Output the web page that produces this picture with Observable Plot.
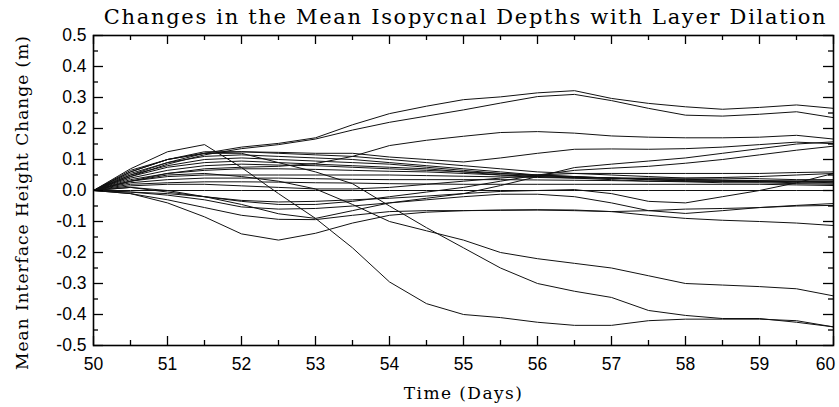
<!DOCTYPE html>
<html><head><meta charset="utf-8">
<script src="https://cdn.jsdelivr.net/npm/d3@7"></script>
<script src="https://cdn.jsdelivr.net/npm/@observablehq/plot@0.6"></script>
<style>body{margin:0;background:#fff} svg{display:block}</style>
</head><body><div id="chart"></div>
<script>
const titleText = "Changes in the Mean Isopycnal Depths with Layer Dilation";
const xLabelText = "Time (Days)";
const yLabelText = "Mean Interface Height Change (m)";

const days = [50, 50.5, 51, 51.5, 52, 52.5, 53, 53.5, 54, 54.5, 55, 55.5, 56, 56.5, 57, 57.5, 58, 58.5, 59, 59.5, 60];

const sA = [0, 0.05, 0.09, 0.12, 0.14, 0.152, 0.17, 0.212, 0.248, 0.272, 0.293, 0.302, 0.315, 0.322, 0.297, 0.281, 0.27, 0.262, 0.268, 0.276, 0.265];
const sB = [0, 0.045, 0.085, 0.115, 0.135, 0.148, 0.166, 0.195, 0.22, 0.24, 0.26, 0.282, 0.303, 0.31, 0.29, 0.265, 0.243, 0.24, 0.246, 0.254, 0.235];
const sC = [0, 0.03, 0.055, 0.07, 0.075, 0.078, 0.087, 0.11, 0.145, 0.162, 0.175, 0.187, 0.19, 0.185, 0.176, 0.172, 0.17, 0.17, 0.172, 0.178, 0.166];
const sD = [0, 0.06, 0.1, 0.12, 0.125, 0.123, 0.12, 0.12, 0.108, 0.1, 0.092, 0.105, 0.12, 0.133, 0.134, 0.133, 0.135, 0.14, 0.148, 0.156, 0.151];
const sL1 = [0, 0.06, 0.1, 0.125, 0.125, 0.12, 0.115, 0.11, 0.1, 0.09, 0.08, 0.07, 0.06, 0.055, 0.05, 0.045, 0.04, 0.04, 0.038, 0.035, 0.035];
const sL2 = [0, 0.055, 0.09, 0.11, 0.115, 0.11, 0.105, 0.1, 0.09, 0.08, 0.07, 0.06, 0.05, 0.045, 0.04, 0.035, 0.03, 0.03, 0.03, 0.028, 0.025];
const sL3 = [0, 0.05, 0.08, 0.1, 0.105, 0.1, 0.095, 0.09, 0.085, 0.075, 0.065, 0.055, 0.048, 0.043, 0.04, 0.038, 0.035, 0.033, 0.03, 0.03, 0.03];
const sL4 = [0, 0.045, 0.075, 0.09, 0.095, 0.09, 0.085, 0.08, 0.075, 0.07, 0.06, 0.05, 0.045, 0.04, 0.035, 0.03, 0.028, 0.025, 0.025, 0.022, 0.02];
const sL5 = [0, 0.04, 0.065, 0.08, 0.085, 0.082, 0.08, 0.075, 0.07, 0.065, 0.06, 0.055, 0.05, 0.045, 0.04, 0.035, 0.032, 0.03, 0.028, 0.025, 0.024];
const sL6 = [0, 0.035, 0.055, 0.065, 0.07, 0.07, 0.068, 0.065, 0.062, 0.06, 0.055, 0.05, 0.045, 0.042, 0.04, 0.038, 0.036, 0.034, 0.032, 0.03, 0.03];
const sL7 = [0, 0.03, 0.045, 0.05, 0.05, 0.05, 0.05, 0.05, 0.05, 0.048, 0.046, 0.044, 0.042, 0.04, 0.04, 0.04, 0.04, 0.042, 0.045, 0.05, 0.055];
const sL8 = [0, 0.025, 0.035, 0.04, 0.04, 0.04, 0.038, 0.036, 0.035, 0.035, 0.035, 0.035, 0.034, 0.033, 0.032, 0.03, 0.03, 0.03, 0.03, 0.03, 0.03];
const sL9 = [0, 0.02, 0.025, 0.028, 0.028, 0.027, 0.025, 0.024, 0.022, 0.021, 0.02, 0.02, 0.02, 0.02, 0.02, 0.02, 0.02, 0.02, 0.02, 0.018, 0.016];
const sZ = [0, 0, 0, 0, 0, 0, 0, 0, 0, 0, 0, 0, 0, 0, 0, 0, 0, 0, 0, 0, 0];
const sI = [0, 0.01, 0.0, -0.02, -0.045, -0.075, -0.09, -0.065, -0.04, -0.025, -0.01, 0.016, 0.045, 0.074, 0.085, 0.095, 0.105, 0.12, 0.135, 0.15, 0.157];
const sJ = [0, 0.01, -0.005, -0.02, -0.035, -0.045, -0.045, -0.035, -0.02, -0.005, 0.01, 0.03, 0.05, 0.065, 0.072, 0.078, 0.088, 0.1, 0.115, 0.13, 0.143];
const sK = [0, 0.015, 0.02, 0.02, 0.015, 0.01, 0.005, 0.005, 0.01, 0.02, 0.03, 0.04, 0.05, 0.055, 0.055, 0.055, 0.055, 0.055, 0.055, 0.058, 0.06];
const sM1 = [0, -0.005, -0.01, -0.02, -0.032, -0.037, -0.035, -0.03, -0.025, -0.018, -0.01, -0.003, 0.0, 0.003, -0.01, -0.035, -0.04, -0.02, 0.0, 0.025, 0.055];
const sM2 = [0, -0.005, -0.015, -0.03, -0.053, -0.06, -0.058, -0.05, -0.04, -0.03, -0.02, -0.012, -0.012, -0.02, -0.04, -0.065, -0.074, -0.065, -0.055, -0.048, -0.042];
const sM3 = [0, -0.01, -0.03, -0.055, -0.08, -0.093, -0.094, -0.08, -0.068, -0.065, -0.065, -0.063, -0.062, -0.063, -0.068, -0.08, -0.09, -0.096, -0.1, -0.105, -0.113];
const sH = [0, -0.01, -0.04, -0.085, -0.14, -0.16, -0.138, -0.105, -0.08, -0.07, -0.065, -0.064, -0.063, -0.065, -0.068, -0.065, -0.06, -0.058, -0.055, -0.05, -0.048];
const sE = [0, 0.03, 0.05, 0.055, 0.045, 0.03, 0.005, -0.045, -0.1, -0.13, -0.16, -0.2, -0.22, -0.235, -0.25, -0.275, -0.3, -0.305, -0.31, -0.317, -0.34];
const sF = [0, 0.065, 0.1, 0.12, 0.12, 0.09, 0.06, 0.022, -0.05, -0.12, -0.185, -0.25, -0.3, -0.325, -0.345, -0.387, -0.403, -0.413, -0.413, -0.425, -0.44];
const sG = [0, 0.07, 0.125, 0.148, 0.074, -0.01, -0.09, -0.185, -0.295, -0.365, -0.4, -0.41, -0.425, -0.435, -0.435, -0.42, -0.415, -0.415, -0.415, -0.42, -0.44];

const seriesList = [
  ["A", sA], ["B", sB], ["C", sC], ["D", sD],
  ["L1", sL1], ["L2", sL2], ["L3", sL3], ["L4", sL4], ["L5", sL5], ["L6", sL6], ["L7", sL7], ["L8", sL8], ["L9", sL9],
  ["Z", sZ], ["I", sI], ["J", sJ], ["K", sK], ["M1", sM1], ["M2", sM2], ["M3", sM3], ["H", sH],
  ["E", sE], ["F", sF], ["G", sG]
];

const xMajor = [50, 51, 52, 53, 54, 55, 56, 57, 58, 59, 60];
const xMinor = [50.5, 51.5, 52.5, 53.5, 54.5, 55.5, 56.5, 57.5, 58.5, 59.5];
const yMajor = [-0.5, -0.4, -0.3, -0.2, -0.1, 0, 0.1, 0.2, 0.3, 0.4, 0.5];
const yMinor = [-0.45, -0.35, -0.25, -0.15, -0.05, 0.05, 0.15, 0.25, 0.35, 0.45];

const rows = seriesList.flatMap(([name, vals]) => vals.map((v, i) => ({series: name, day: days[i], change: v})));

const W = 839, H = 407, mL = 93, mR = 6, mT = 35, mB = 62;
const fw = W - mL - mR, fh = H - mT - mB;
const serif = "DejaVu Serif, serif";
const tk = {stroke: "#000", strokeWidth: 1.3};

const chart = Plot.plot({
  width: W, height: H,
  marginLeft: mL, marginRight: mR, marginTop: mT, marginBottom: mB,
  style: {fontFamily: "Liberation Sans, Arial, sans-serif", fontSize: "17px", background: "#fff", color: "#000"},
  x: {domain: [50, 60], label: null},
  y: {domain: [-0.5, 0.5], label: null},
  marks: [
    Plot.lineY(rows, {x: "day", y: "change", z: "series", stroke: "#111", strokeWidth: 1}),
    // inward ticks on all four sides
    Plot.tickX(xMajor, {x: d => d, insetTop: fh - 9, ...tk}),
    Plot.tickX(xMinor, {x: d => d, insetTop: fh - 5, ...tk}),
    Plot.tickX(xMajor, {x: d => d, insetBottom: fh - 9, ...tk}),
    Plot.tickX(xMinor, {x: d => d, insetBottom: fh - 5, ...tk}),
    Plot.tickY(yMajor, {y: d => d, insetRight: fw - 10, ...tk}),
    Plot.tickY(yMinor, {y: d => d, insetRight: fw - 5, ...tk}),
    Plot.tickY(yMajor, {y: d => d, insetLeft: fw - 10, ...tk}),
    Plot.tickY(yMinor, {y: d => d, insetLeft: fw - 5, ...tk}),
    Plot.axisX(xMajor, {anchor: "bottom", tickSize: 0, tickPadding: 12, tickFormat: d => String(d), fontSize: 17.5, stroke: "#000", strokeWidth: 0.35, label: null}),
    Plot.axisY(yMajor, {anchor: "left", tickSize: 0, tickPadding: 7, tickFormat: d => d.toFixed(1), fontSize: 17.5, stroke: "#000", strokeWidth: 0.35, label: null}),
    Plot.frame({stroke: "#000", strokeWidth: 1.6}),
    Plot.text([titleText], {frameAnchor: "top", dx: 2, dy: -18, lineAnchor: "middle", textAnchor: "middle", fontSize: 21, fontFamily: serif, fill: "#000"}),
    Plot.text([xLabelText], {frameAnchor: "bottom", dy: 48, lineAnchor: "middle", textAnchor: "middle", fontSize: 17, fontFamily: serif, fill: "#000"}),
    Plot.text([yLabelText], {frameAnchor: "left", dx: -71, dy: 12, rotate: -90, lineAnchor: "middle", textAnchor: "middle", fontSize: 17, fontFamily: serif, fill: "#000"})
  ]
});
document.getElementById("chart").appendChild(chart);

// fit text widths to the reference by adjusting letter spacing
function fitText(str, target) {
  const t = Array.from(chart.querySelectorAll("text")).find(n => n.textContent === str);
  if (!t) return;
  const len = t.getComputedTextLength();
  const n = str.length;
  if (n > 1) t.setAttribute("letter-spacing", ((target - len) / (n - 1)).toFixed(2));
}
fitText(titleText, 722);
fitText(xLabelText, 118);
fitText(yLabelText, 334);
// keep the last x tick label inside the picture
const last = Array.from(chart.querySelectorAll("text")).find(n => n.textContent === "60");
if (last) last.setAttribute("dx", "-8");
</script></body></html>
